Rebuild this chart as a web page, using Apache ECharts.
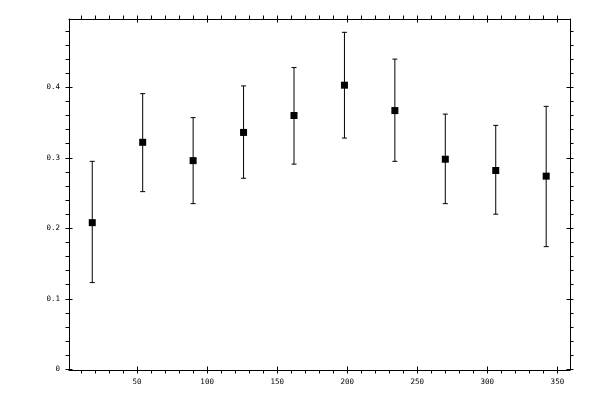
<!DOCTYPE html>
<html>
<head>
<meta charset="utf-8">
<style>
  html, body { margin: 0; padding: 0; background: #fff; }
  #chart { width: 600px; height: 400px; }
</style>
<script src="https://cdn.jsdelivr.net/npm/echarts@6/dist/echarts.min.js"></script>
</head>
<body>
<div id="chart"></div>
<script>
var xValues = [18, 54, 90, 126, 162, 198, 234, 270, 306, 342];
var yValues = [0.208, 0.322, 0.296, 0.336, 0.360, 0.403, 0.367, 0.298, 0.282, 0.274];
var yLow = [0.123, 0.252, 0.235, 0.271, 0.291, 0.328, 0.295, 0.235, 0.220, 0.174];
var yHigh = [0.295, 0.391, 0.357, 0.402, 0.428, 0.478, 0.440, 0.362, 0.346, 0.373];

var xMajor = [50, 100, 150, 200, 250, 300, 350];
var xMinor = [10, 20, 30, 40, 50, 60, 70, 80, 90, 100, 110, 120, 130, 140, 150, 160, 170, 180,
  190, 200, 210, 220, 230, 240, 250, 260, 270, 280, 290, 300, 310, 320, 330, 340, 350];
var yMajor = [0, 0.1, 0.2, 0.3, 0.4];
var yMinor = [0, 0.02, 0.04, 0.06, 0.08, 0.1, 0.12, 0.14, 0.16, 0.18, 0.2, 0.22, 0.24, 0.26,
  0.28, 0.3, 0.32, 0.34, 0.36, 0.38, 0.4, 0.42, 0.44, 0.46, 0.48];

(function() {
  var ink = '#000';
  var xMin = 1.4, xMax = 359;
  var yMin = -0.001, yMax = 0.4969;
  var font = { color: ink, fontSize: 7.5, fontFamily: 'DejaVu Sans Mono' };

  function xAxisDef(pos, outer) {
    return {
      type: 'value', position: pos, min: xMin, max: xMax,
      splitLine: { show: false },
      axisLine: { show: outer, onZero: false, lineStyle: { color: ink, width: 1 } },
      axisTick: {
        show: true, inside: !outer, length: 3.5,
        customValues: outer ? xMinor : xMajor,
        lineStyle: { color: ink, width: 1 }
      },
      axisLabel: (outer && pos === 'bottom')
        ? Object.assign({ show: true, margin: 8, customValues: xMajor }, font)
        : { show: false }
    };
  }

  function yAxisDef(pos, outer) {
    return {
      type: 'value', position: pos, min: yMin, max: yMax,
      splitLine: { show: false },
      axisLine: { show: outer, onZero: false, lineStyle: { color: ink, width: 1 } },
      axisTick: {
        show: true, inside: !outer, length: 3.5,
        customValues: outer ? yMinor : yMajor,
        lineStyle: { color: ink, width: 1 }
      },
      axisLabel: (outer && pos === 'left')
        ? Object.assign({
            show: true, margin: 9, customValues: yMajor,
            formatter: function(v) { return String(Math.round(v * 10) / 10); }
          }, font)
        : { show: false }
    };
  }

  var barData = xValues.map(function(x, i) { return [x, yLow[i], yHigh[i]]; });
  var pointData = xValues.map(function(x, i) { return [x, yValues[i]]; });

  var chart = echarts.init(document.getElementById('chart'), null, { renderer: 'canvas' });
  chart.setOption({
    animation: false,
    backgroundColor: '#fff',
    grid: { left: 69, top: 19, width: 501, height: 351 },
    xAxis: [
      xAxisDef('bottom', true), xAxisDef('bottom', false),
      xAxisDef('top', true), xAxisDef('top', false)
    ],
    yAxis: [
      yAxisDef('left', true), yAxisDef('left', false),
      yAxisDef('right', true), yAxisDef('right', false)
    ],
    series: [
      {
        type: 'custom',
        xAxisIndex: 0, yAxisIndex: 0,
        data: barData,
        renderItem: function(params, api) {
          var lo = api.coord([api.value(0), api.value(1)]);
          var hi = api.coord([api.value(0), api.value(2)]);
          var cap = 2.5;
          var style = { stroke: ink, lineWidth: 1 };
          return {
            type: 'group',
            children: [
              { type: 'line', shape: { x1: lo[0], y1: lo[1], x2: hi[0], y2: hi[1] }, style: style },
              { type: 'line', shape: { x1: hi[0] - cap, y1: hi[1], x2: hi[0] + cap, y2: hi[1] }, style: style },
              { type: 'line', shape: { x1: lo[0] - cap, y1: lo[1], x2: lo[0] + cap, y2: lo[1] }, style: style }
            ]
          };
        }
      },
      {
        type: 'scatter',
        xAxisIndex: 0, yAxisIndex: 0,
        symbol: 'rect',
        symbolSize: 7,
        itemStyle: { color: ink, opacity: 1 },
        data: pointData,
        z: 3
      }
    ]
  });
})();
</script>
</body>
</html>
